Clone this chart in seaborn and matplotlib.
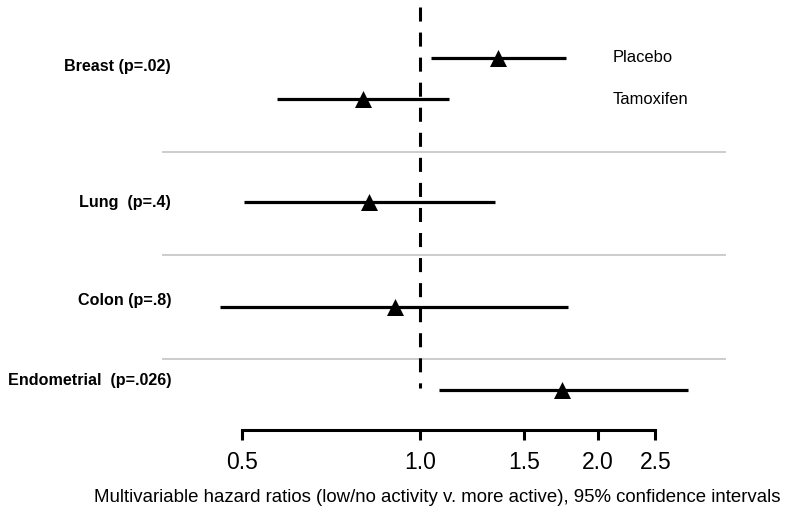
import numpy as np
import pandas as pd
import matplotlib
matplotlib.use('Agg')
import matplotlib.pyplot as plt
import seaborn as sns

# hazard ratios
rows = ['Breast placebo', 'Breast tamoxifen', 'Lung', 'Colon', 'Endometrial']
hr = [1.355, 0.801, 0.820, 0.907, 1.739]
ci_low = [1.044, 0.573, 0.503, 0.459, 1.077]
ci_high = [1.766, 1.119, 1.339, 1.779, 2.84]

site_labels = ['Breast (p=.02)', 'Lung  (p=.4)', 'Colon (p=.8)', 'Endometrial  (p=.026)']
arm_labels = ['Placebo', 'Tamoxifen']
tick_values = [0.5, 1.0, 1.5, 2.0, 2.5]
tick_labels = ['0.5', '1.0', '1.5', '2.0', '2.5']
xlabel = 'Multivariable hazard ratios (low/no activity v. more active), 95% confidence intervals'

# layout (pixel rows of an 800x516 canvas)
W, H = 800, 516
ROW_Y = [58, 99, 202, 307, 390]
SEP_Y = [152, 255, 359]
SITE_Y = [67, 203, 300, 381]
ARM_Y = [58, 99]


def px2val(px):
    return 2 ** ((px - 420) / 178)


def main():
    sns.set_style('white')
    plt.rcParams['font.family'] = ['Liberation Sans', 'DejaVu Sans']
    plt.rcParams['text.color'] = 'black'
    plt.rcParams['xtick.labelcolor'] = 'black'

    df = pd.DataFrame({'row': rows, 'hr': hr, 'lo': ci_low, 'hi': ci_high, 'y': ROW_Y})

    fig = plt.figure(figsize=(W / 100, H / 100), dpi=100)
    ax = fig.add_axes([0, 0, 1, 1])
    ax.set_xscale('log')
    ax.set_xlim(px2val(0), px2val(W))
    ax.set_ylim(H, 0)

    # separators
    ax.hlines(SEP_Y, px2val(162), px2val(726), color='#c4c4c4', lw=1.2, zorder=1)
    # reference line at 1
    ax.vlines(1.0, 7, 388, color='black', lw=2.2, linestyles=(0, (4.6, 3.6)), zorder=2)
    # confidence intervals
    ax.hlines(df['y'], df['lo'], df['hi'], color='black', lw=2.3, zorder=3)
    sns.scatterplot(data=df, x='hr', y='y', marker='^', s=150, color='black',
                    edgecolor='black', linewidth=0, ax=ax, zorder=4, legend=False)

    for lab, y in zip(site_labels, SITE_Y):
        fig.text(171 / W, 1 - y / H, lab, ha='right', va='center', fontsize=11.6,
                 fontweight='bold', color='black')
    for lab, y in zip(arm_labels, ARM_Y):
        fig.text(613 / W, 1 - y / H, lab, ha='left', va='center', fontsize=11.9, color='black')

    # bottom axis
    for s in ['top', 'right', 'left']:
        ax.spines[s].set_visible(False)
    ax.spines['bottom'].set_position(('data', 430))
    ax.spines['bottom'].set_bounds(0.5, 2.5)
    ax.spines['bottom'].set_linewidth(2.2)
    ax.spines['bottom'].set_color('black')
    ax.set_xticks(tick_values)
    ax.set_xticklabels(tick_labels)
    ax.minorticks_off()
    ax.set_yticks([])
    ax.tick_params(axis='x', direction='out', length=7, width=2.2, pad=8, labelsize=16.5,
                   bottom=True, color='black', labelcolor='black')
    ax.set_xlabel('')
    ax.set_ylabel('')
    fig.text(437 / W, 1 - 497 / H, xlabel, ha='center', va='center', fontsize=13.4, color='black')

    fig.savefig('out.png', dpi=100)


if __name__ == '__main__':
    main()
